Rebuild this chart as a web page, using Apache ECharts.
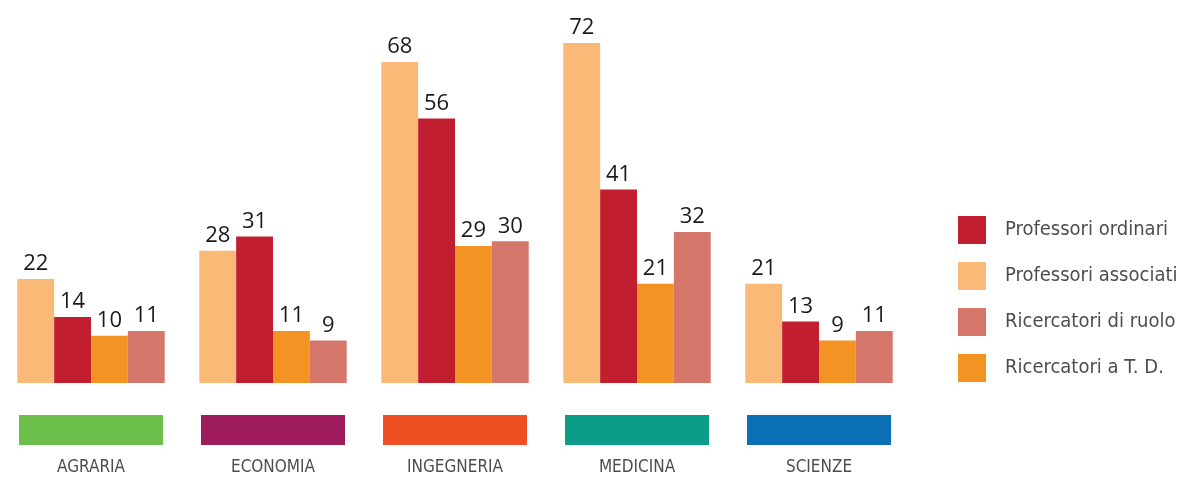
<!DOCTYPE html>
<html>
<head>
<meta charset="utf-8">
<script src="https://cdn.jsdelivr.net/npm/echarts@6/dist/echarts.min.js"></script>
<style>
  html, body { margin: 0; padding: 0; background: #fff; }
  #chart { width: 1181px; height: 478px; }
</style>
</head>
<body>
<div id="chart"></div>
<script>
// dati
const categories = ["AGRARIA", "ECONOMIA", "INGEGNERIA", "MEDICINA", "SCIENZE"];
const associati = [22, 28, 68, 72, 21];
const ordinari = [14, 31, 56, 41, 13];
const ricercatoriTD = [10, 11, 29, 21, 9];
const ricercatoriRuolo = [11, 9, 30, 32, 11];
const categoryColors = ["#6dbf4b", "#9e1b5c", "#ee5023", "#0c9d88", "#0b6fb6"];

const condensed = "'Liberation Sans Narrow', 'DejaVu Sans Condensed', sans-serif";

function barSeries(name, data, color) {
  return {
    name: name,
    type: "bar",
    xAxisIndex: 0,
    yAxisIndex: 0,
    data: data,
    barGap: "0%",
    barCategoryGap: "19%",
    itemStyle: { color: color },
    label: {
      show: true,
      position: "top",
      distance: 4,
      color: "#1a1a1a",
      fontSize: 22,
      fontFamily: "'Open Sans', sans-serif"
    }
  };
}

const chart = echarts.init(document.getElementById("chart"));
const option = {
  animation: false,
  grid: [
    { left: -3, width: 913, top: 43, bottom: 95 },
    { left: -2, width: 912, top: 415, height: 30 }
  ],
  xAxis: [
    {
      gridIndex: 0, type: "category", data: categories,
      axisLine: { show: false }, axisTick: { show: false }, axisLabel: { show: false }
    },
    {
      gridIndex: 1, type: "category", data: categories,
      axisLine: { show: false }, axisTick: { show: false },
      axisLabel: { margin: 14, color: "#4d4d4d", fontSize: 17, fontFamily: condensed }
    }
  ],
  yAxis: [
    { gridIndex: 0, type: "value", min: 0, max: 72, show: false },
    { gridIndex: 1, type: "value", min: 0, max: 1, show: false }
  ],
  legend: {
    orient: "vertical",
    left: 958,
    top: 216,
    padding: 0,
    itemWidth: 28,
    itemHeight: 28,
    itemGap: 18,
    icon: "rect",
    data: ["Professori ordinari", "Professori associati", "Ricercatori di ruolo", "Ricercatori a T. D."],
    textStyle: { color: "#4d4d4d", fontSize: 20, fontFamily: condensed, padding: [0, 0, 0, 14] }
  },
  series: [
    barSeries("Professori associati", associati, "#fbb978"),
    barSeries("Professori ordinari", ordinari, "#c11f30"),
    barSeries("Ricercatori a T. D.", ricercatoriTD, "#f39324"),
    barSeries("Ricercatori di ruolo", ricercatoriRuolo, "#d4766a"),
    {
      type: "bar",
      xAxisIndex: 1,
      yAxisIndex: 1,
      barWidth: 144,
      silent: true,
      data: categories.map((c, i) => ({ value: 1, itemStyle: { color: categoryColors[i] } }))
    }
  ]
};
chart.setOption(option);
</script>
</body>
</html>
